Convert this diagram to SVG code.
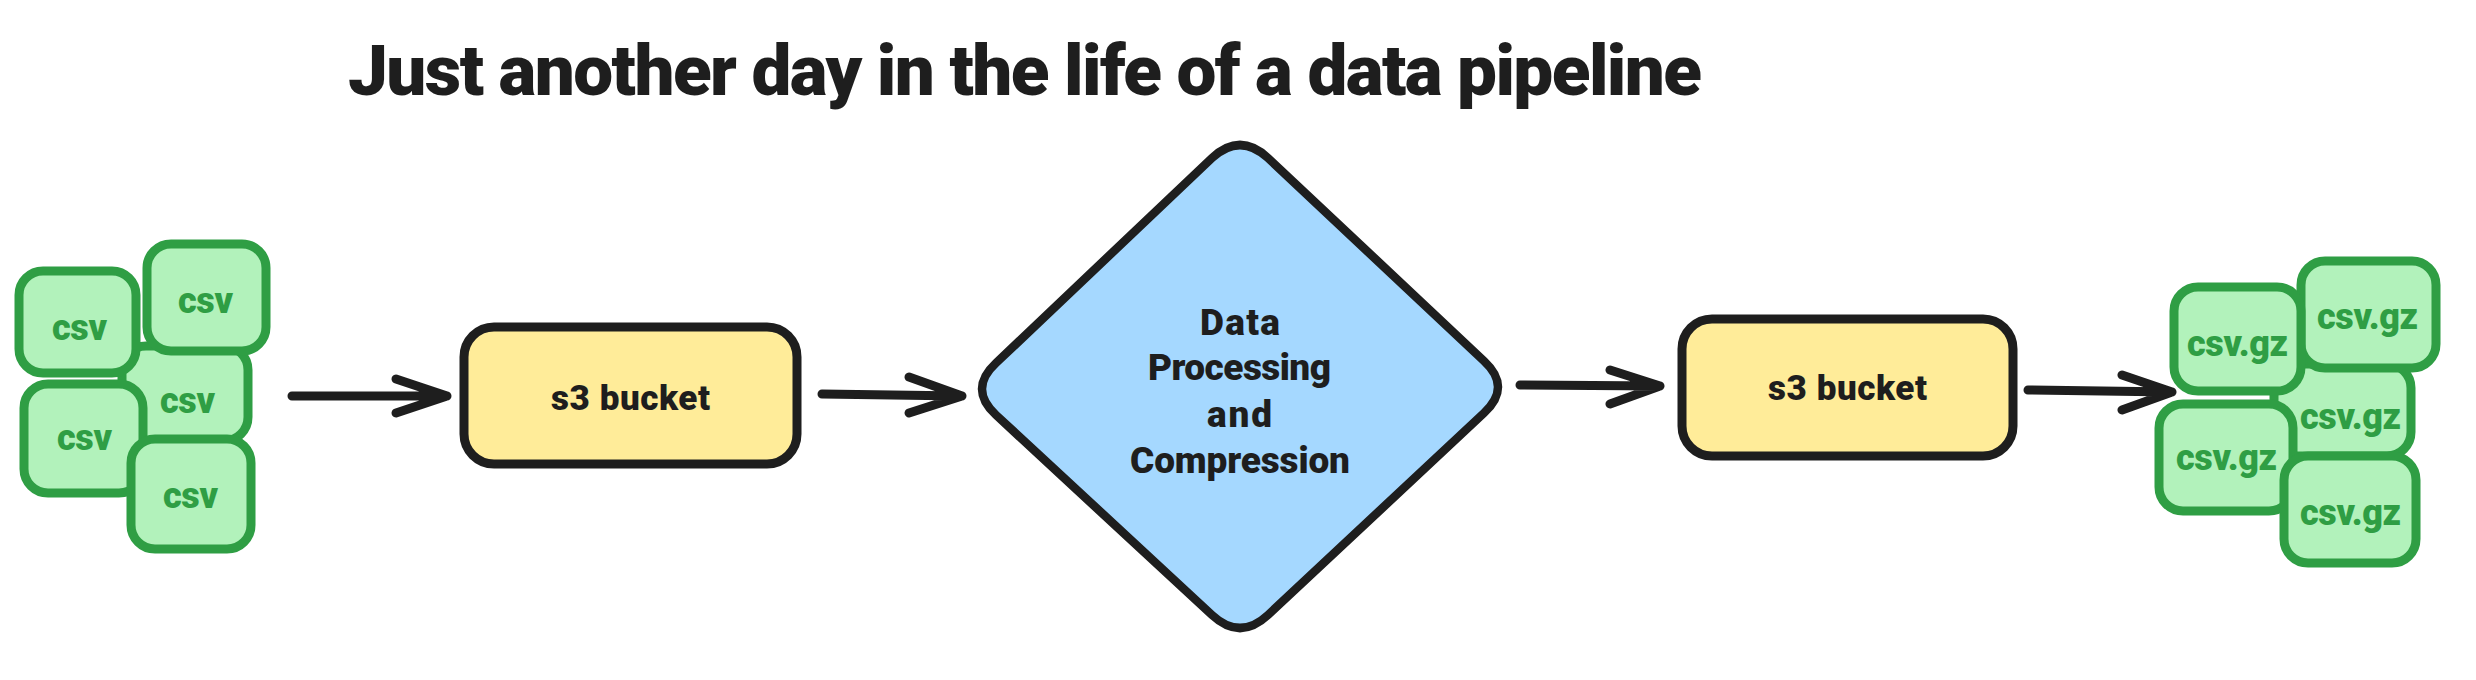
<svg xmlns="http://www.w3.org/2000/svg" width="2476" height="680" viewBox="0 0 2476 680">
<style>
  .bg{fill:#ffffff}
  .file rect{fill:#b2f2bb;stroke:#2f9e44;stroke-width:9}
  .file text{fill:#2f9e44;font-family:Roboto,Inter,"Liberation Sans",sans-serif;font-weight:900;font-size:36px}
  .bucket rect{fill:#ffec99;stroke:#1e1e1e;stroke-width:9}
  .lbl{fill:#1e1e1e;font-family:Roboto,Inter,"Liberation Sans",sans-serif;font-weight:900}
  .proc path{fill:#a5d8ff;stroke:#1e1e1e;stroke-width:8.5;stroke-linejoin:round}
  .conn path{fill:none;stroke:#1e1e1e;stroke-width:9;stroke-linecap:round;stroke-linejoin:round}
</style>
<rect class="bg" x="0" y="0" width="2476" height="680"/>
<text id="title" class="lbl" x="348" y="95" font-size="71" textLength="1354">Just another day in the life of a data pipeline</text>

<g id="csv-c" class="file"><rect x="122" y="346" width="126" height="95" rx="24"/><text x="160" y="413" textLength="55">csv</text></g>
<g id="csv-a" class="file"><rect x="19" y="271" width="117" height="102" rx="24"/><text x="52" y="340" textLength="55">csv</text></g>
<g id="csv-b" class="file"><rect x="147" y="244" width="119" height="107" rx="24"/><text x="178" y="313" textLength="55">csv</text></g>
<g id="csv-d" class="file"><rect x="24" y="384" width="119" height="109" rx="24"/><text x="57" y="450" textLength="55">csv</text></g>
<g id="csv-e" class="file"><rect x="131" y="439" width="120" height="110" rx="24"/><text x="163" y="508" textLength="55">csv</text></g>

<g id="bucket-1" class="bucket"><rect x="464" y="327" width="333" height="137" rx="30"/><text class="lbl" x="551" y="410" font-size="35" textLength="159">s3 bucket</text></g>

<g id="process" class="proc">
  <path d="M1268,158 L1484,361 Q1512,387 1484,413 L1268,615 Q1240,641 1212,615 L996,415 Q968,389 996,363 L1212,158 Q1240,132 1268,158 Z"/>
  <text class="lbl" x="1200" y="335" font-size="37" textLength="80">Data</text>
  <text class="lbl" x="1148" y="380" font-size="37" textLength="183">Processing</text>
  <text class="lbl" x="1207" y="427" font-size="37" textLength="65">and</text>
  <text class="lbl" x="1130" y="473" font-size="37" textLength="220">Compression</text>
</g>

<g id="bucket-2" class="bucket"><rect x="1682" y="319" width="331" height="137" rx="30"/><text class="lbl" x="1768" y="400" font-size="35" textLength="159">s3 bucket</text></g>

<g id="gz-h" class="file"><rect x="2274" y="364" width="137" height="92" rx="24"/><text x="2300" y="429" textLength="101">csv.gz</text></g>
<g id="gz-g" class="file"><rect x="2301" y="261" width="135" height="107" rx="24"/><text x="2317" y="329" textLength="101">csv.gz</text></g>
<g id="gz-f" class="file"><rect x="2174" y="287" width="127" height="104" rx="24"/><text x="2187" y="356" textLength="101">csv.gz</text></g>
<g id="gz-i" class="file"><rect x="2159" y="404" width="134" height="107" rx="24"/><text x="2176" y="470" textLength="101">csv.gz</text></g>
<g id="gz-j" class="file"><rect x="2284" y="456" width="132" height="107" rx="24"/><text x="2300" y="525" textLength="101">csv.gz</text></g>

<g id="connectors" class="conn">
  <path d="M292,396 L447,396 M396,379 L447,396 L396,413"/>
  <path d="M822,394 L962,396 M909,377 L962,396 L909,413"/>
  <path d="M1520,385 L1660,386 M1610,370 L1660,386 L1610,404"/>
  <path d="M2028,390 L2172,392 M2122,375 L2172,392 L2122,410"/>
</g>
</svg>
